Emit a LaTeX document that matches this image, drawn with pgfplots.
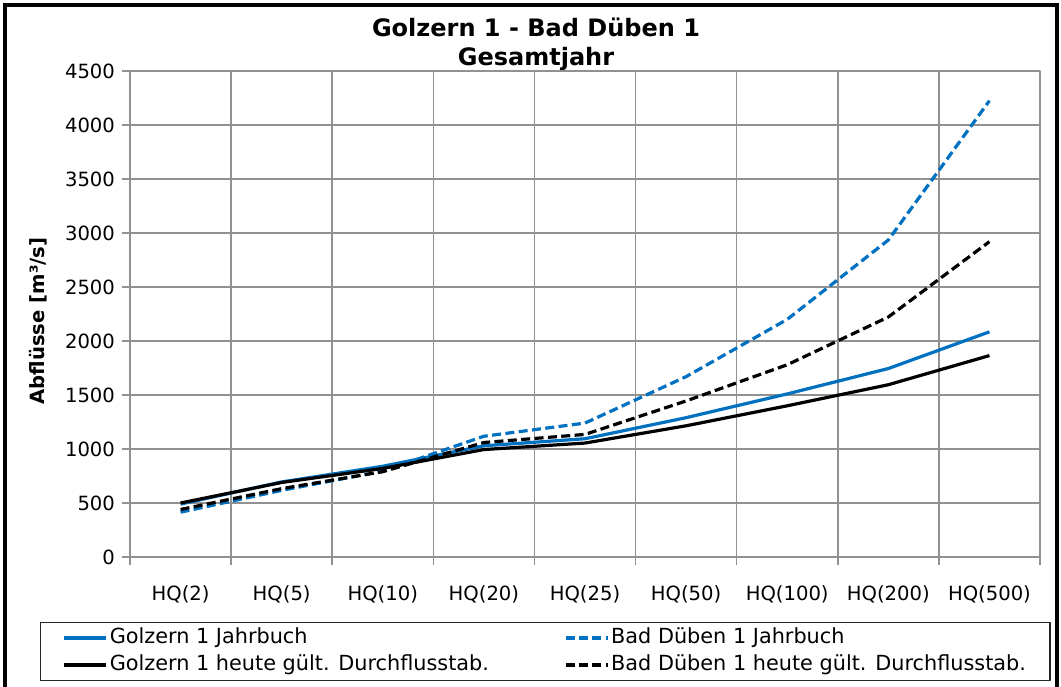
\documentclass[border=0pt]{standalone}
\usepackage{pgfplots}
\pgfplotsset{compat=1.18}
\usepackage{fontspec}
\setmainfont{DejaVu Sans}
\definecolor{xblue}{RGB}{0,112,192}
\definecolor{gridgray}{RGB}{145,145,145}
\begin{document}
\begin{tikzpicture}[x=1pt,y=1pt]
\path[use as bounding box] (0,0) rectangle (530.5,343);
\draw[line width=2pt] (2.5,-5) -- (2.5,340.5) -- (528.5,340.5) -- (528.5,-5);
\node[font=\bfseries\fontsize{12}{14}\selectfont, anchor=base] at (268,324.5) {Golzern 1 - Bad Düben 1};
\node[font=\bfseries\fontsize{12}{14}\selectfont, anchor=base] at (268,310) {Gesamtjahr};
\node[font=\bfseries\fontsize{9.8}{12}\selectfont, rotate=90] at (19,182.5) {Abflüsse [m³/s]};
\begin{axis}[
  at={(65pt,64.5pt)}, anchor=south west,
  scale only axis, width=455pt, height=243pt,
  xmin=-0.5, xmax=8.5, ymin=0, ymax=4500,
  ytick={0,500,...,4500},
  xtick={-0.5,0.5,...,8.5}, xticklabels={},
  extra x ticks={0,1,2,3,4,5,6,7,8},
  extra x tick labels={HQ(2),HQ(5),HQ(10),HQ(20),HQ(25),HQ(50),HQ(100),HQ(200),HQ(500)},
  extra x tick style={grid=none, tick style={draw=none}},
  grid=major, grid style={gridgray, line width=0.8pt},
  axis line style={gridgray, line width=0.8pt},
  tick style={gridgray, line width=0.8pt},
  tick align=outside, major tick length=4pt, tick pos=left,
  ticklabel style={font=\fontsize{9.8}{11}\selectfont, text=black},
  xticklabel style={yshift=-7pt},
  /pgf/number format/assume math mode=true,
  /pgf/number format/1000 sep={},
  scaled y ticks=false,
  legend columns=2, legend cell align=left,
  legend image code/.code={\draw[#1] (0pt,0pt) -- (21pt,0pt);},
  legend style={at={(-0.0989,-0.1337)}, anchor=north west, draw=black!85, line width=0.6pt,
    fill=white, inner xsep=11pt, inner ysep=1pt,
    font=\fontsize{10.4}{12}\selectfont,
    nodes={text height=7.5pt, text depth=2pt, inner ysep=2pt, inner xsep=1pt},
    /tikz/every even column/.append style={column sep=36.5pt}},
  line join=round,
]
\addplot[xblue, line width=1.6pt] coordinates {(0,490) (1,695) (2,840) (3,1030) (4,1095) (5,1290) (6,1510) (7,1745) (8,2085)};
\addlegendentry{Golzern 1 Jahrbuch}
\addplot[xblue, line width=1.6pt, dash pattern=on 4.5pt off 2.2pt] coordinates {(0,415) (1,617) (2,795) (3,1118) (4,1240) (5,1670) (6,2200) (7,2935) (8,4225)};
\addlegendentry{Bad Düben 1 Jahrbuch}
\addplot[black, line width=1.6pt] coordinates {(0,500) (1,690) (2,820) (3,995) (4,1055) (5,1215) (6,1400) (7,1595) (8,1865)};
\addlegendentry{Golzern 1 heute gült. Durchflusstab.}
\addplot[black, line width=1.6pt, dash pattern=on 4.5pt off 2.2pt] coordinates {(0,440) (1,633) (2,790) (3,1060) (4,1135) (5,1445) (6,1780) (7,2222) (8,2920)};
\addlegendentry{Bad Düben 1 heute gült. Durchflusstab.}
\end{axis}
\end{tikzpicture}
\end{document}
